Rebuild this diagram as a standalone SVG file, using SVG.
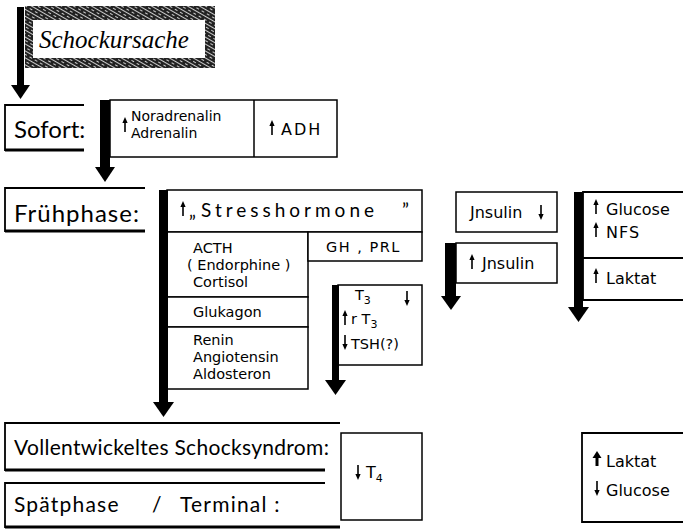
<svg xmlns="http://www.w3.org/2000/svg" width="683" height="532" viewBox="0 0 683 532">
<defs>
<pattern id="hatch" width="6" height="6" patternUnits="userSpaceOnUse" patternTransform="rotate(30)">
<rect width="6" height="6" fill="#222"/>
<path d="M0 1.5H6M0 4.5H3" stroke="#ccc" stroke-width="1"/>
</pattern>
<symbol id="up" viewBox="-4 0 8 16" width="8" height="16" overflow="visible"><path d="M0 15V4" stroke="#000" stroke-width="1.6"/><path d="M-2.6 6L2.6 6L0 0Z" fill="#000"/></symbol>
<symbol id="dn" viewBox="-4 0 8 16" width="8" height="16" overflow="visible"><path d="M0 1V12" stroke="#000" stroke-width="1.6"/><path d="M-2.6 10L2.6 10L0 16Z" fill="#000"/></symbol>
<symbol id="upb" viewBox="-5 0 10 16" width="10" height="16" overflow="visible"><path d="M0 15V6" stroke="#000" stroke-width="3"/><path d="M-4.5 7L4.5 7L0 0Z" fill="#000"/></symbol>
</defs>
<style>
.box{fill:#fff;stroke:#000;stroke-width:1.5}
.ln{fill:none;stroke:#000;stroke-width:1.8}
.t{font-family:"Lato","Liberation Sans",sans-serif;fill:#000}
.d{font-family:"DejaVu Sans","Liberation Sans",sans-serif;fill:#000}
.big{font-size:24px}
.mid{font-size:21px}
.sm{font-size:14.5px}
.s16{font-size:16px}
.sub{font-size:11px}
.bar{fill:#000}
</style>

<g id="schockursache">
<rect x="25" y="6" width="190" height="62" fill="url(#hatch)"/>
<rect x="33" y="20" width="172" height="38" fill="#fff"/>
<text x="39" y="48" font-family="Liberation Serif, serif" font-style="italic" font-size="25" fill="#000">Schockursache</text>
</g>

<g id="sofort">
<path class="ln" d="M84 105H5V150H84"/>
<path d="M5 150H84" stroke="#000" stroke-width="3"/>
<text class="t big" x="14" y="138">Sofort:</text>
</g>

<g id="noradrenalin">
<rect class="box" x="110" y="100" width="227" height="57"/>
<line x1="254" y1="100" x2="254" y2="157" stroke="#000" stroke-width="1.5"/>
<use href="#up" x="121" y="117"/>
<text class="d" font-size="14" x="131" y="121">Noradrenalin</text>
<text class="d" font-size="14" x="131" y="138">Adrenalin</text>
<use href="#up" x="268" y="120"/>
<text class="d s16" x="281" y="135" letter-spacing="2">ADH</text>
</g>

<g id="fruehphase">
<path class="ln" d="M145 188H5V231H145"/>
<path d="M5 231H145" stroke="#000" stroke-width="3"/>
<text class="t big" x="14" y="222" letter-spacing="1">Frühphase:</text>
</g>

<g id="stresshormone">
<rect class="box" x="167" y="190" width="255" height="42"/>
<use href="#up" x="179" y="201"/>
<text class="t" x="189" y="217" font-size="19">„<tspan x="201" letter-spacing="4">Stresshormone</tspan><tspan x="402">”</tspan></text>
</g>
<g id="acth">
<rect class="box" x="167" y="232" width="141" height="65"/>
<text class="d sm" x="193" y="253">ACTH</text>
<text class="d sm" x="187" y="270">( Endorphine )</text>
<text class="d sm" x="193" y="287">Cortisol</text>
</g>
<g id="ghprl">
<rect class="box" x="308" y="232" width="114" height="29"/>
<text class="d sm" x="326" y="252" letter-spacing="1.5">GH , PRL</text>
</g>
<g id="glukagon">
<rect class="box" x="167" y="297" width="141" height="30"/>
<text class="d sm" x="193" y="317">Glukagon</text>
</g>
<g id="renin">
<rect class="box" x="167" y="327" width="141" height="62"/>
<text class="d sm" x="193" y="345">Renin</text>
<text class="d sm" x="193" y="362">Angiotensin</text>
<text class="d sm" x="193" y="379">Aldosteron</text>
</g>

<g id="t3box">
<rect class="box" x="338" y="285" width="84" height="80"/>
<text class="d sm" x="355" y="300">T<tspan class="sub" dy="4">3</tspan></text>
<use href="#dn" x="403" y="290"/>
<use href="#up" x="341" y="310"/>
<text class="d sm" x="351" y="324">r T<tspan class="sub" dy="4">3</tspan></text>
<use href="#dn" x="341" y="334"/>
<text class="d sm" x="351" y="349">TSH(?)</text>
</g>

<g id="insulin-down">
<rect class="box" x="456" y="192" width="101" height="40"/>
<text class="d s16" x="470" y="218">Jnsulin</text>
<use href="#dn" x="537" y="204"/>
</g>
<g id="insulin-up">
<rect class="box" x="456" y="243" width="101" height="40"/>
<use href="#up" x="468" y="254"/>
<text class="d s16" x="482" y="269">Jnsulin</text>
</g>

<g id="glucose-nfs">
<path class="ln" d="M690 192H583V258H690"/>
<use href="#up" x="592" y="199"/>
<text class="d s16" x="606" y="215">Glucose</text>
<use href="#up" x="592" y="222"/>
<text class="d s16" x="606" y="238" letter-spacing="1">NFS</text>
</g>
<g id="laktat1">
<path class="ln" d="M690 258H583V300H690"/>
<use href="#up" x="592" y="268"/>
<text class="d s16" x="606" y="284">Laktat</text>
</g>

<g id="vollentwickelt">
<path class="ln" d="M340 423H5V470H325"/>
<path d="M5 470H325" stroke="#000" stroke-width="3"/>
<text class="t mid" x="14" y="455" letter-spacing="0.3">Vollentwickeltes Schocksyndrom:</text>
</g>
<g id="spaetphase">
<path class="ln" d="M325 483H5V527H340"/>
<path d="M5 527H340" stroke="#000" stroke-width="3"/>
<text class="t mid" x="14" y="512" letter-spacing="1.2">Spätphase<tspan x="152">/</tspan><tspan x="180">Terminal :</tspan></text>
</g>

<g id="t4box">
<rect class="box" x="341" y="433" width="81" height="87"/>
<use href="#dn" x="354" y="464"/>
<text class="d s16" x="366" y="478">T<tspan class="sub" dy="4">4</tspan></text>
</g>

<g id="laktat-glucose">
<path class="ln" d="M690 433H582V522H690"/>
<use href="#upb" x="592" y="451"/>
<text class="d s16" x="606" y="467">Laktat</text>
<use href="#dn" x="593" y="480"/>
<text class="d s16" x="606" y="496">Glucose</text>
</g>

<g id="connectors">
<rect class="bar" x="17" y="7" width="7" height="79"/>
<path class="bar" d="M11 85H30L20.5 99Z"/>
<rect class="bar" x="100" y="100" width="10" height="68"/>
<path class="bar" d="M95 167H115L105 182Z"/>
<rect class="bar" x="159" y="190" width="9" height="213"/>
<path class="bar" d="M153 402H174L163.5 417Z"/>
<rect class="bar" x="332" y="285" width="7" height="96"/>
<path class="bar" d="M325 380H346L335.5 395Z"/>
<rect class="bar" x="445" y="243" width="11" height="54"/>
<path class="bar" d="M441 296H461L451 310Z"/>
<rect class="bar" x="574" y="192" width="9" height="116"/>
<path class="bar" d="M568 307H589L578.5 322Z"/>
</g>
</svg>
